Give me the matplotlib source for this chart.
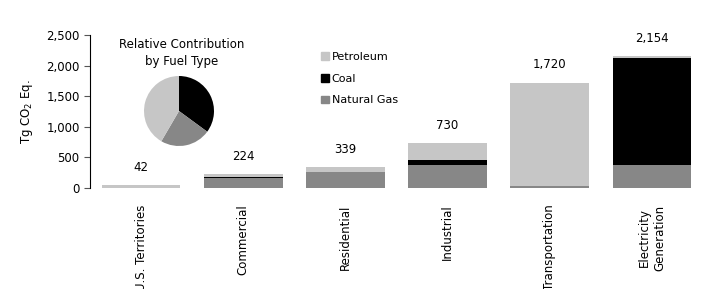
import numpy as np
import matplotlib
matplotlib.use("Agg")
import matplotlib.pyplot as plt
from matplotlib.patches import Patch
from matplotlib.ticker import FuncFormatter

# CO2 emissions from fossil fuel combustion by end-use sector and fuel type (Tg CO2 Eq.)
sectors = ['U.S. Territories', 'Commercial', 'Residential', 'Industrial',
           'Transportation', 'Electricity\nGeneration']
natural_gas = [0, 170, 259, 379, 35, 373]
coal = [0, 6, 0, 74, 0, 1747]
petroleum = [42, 48, 80, 277, 1685, 34]
totals = ['42', '224', '339', '730', '1,720', '2,154']

c_pet = '#c6c6c6'
c_coal = '#000000'
c_gas = '#878787'

plt.rcParams['font.family'] = 'DejaVu Sans'
plt.rcParams['font.size'] = 8

fig = plt.figure(figsize=(7.07, 2.89), dpi=100)
ax = fig.add_axes([90/707, 1 - 188/289, 613/707, 153/289])

x = np.arange(len(sectors))
gas = np.array(natural_gas)
cl = np.array(coal)
pet = np.array(petroleum)
w = 0.77
ax.bar(x, gas, w, color=c_gas, linewidth=0)
ax.bar(x, cl, w, bottom=gas, color=c_coal, linewidth=0)
ax.bar(x, pet, w, bottom=gas + cl, color=c_pet, linewidth=0)

tot = gas + cl + pet
for xi, t, lab in zip(x, tot, totals):
    ax.text(xi, t + 190, lab, ha='center', va='bottom', fontsize=8.5)

ax.set_xlim(-0.5, 5.5)
ax.set_ylim(0, 2500)
ax.set_yticks(np.arange(0, 2501, 500))
ax.yaxis.set_major_formatter(FuncFormatter(lambda v, p: f'{int(v):,}'))
ax.set_xticks(x)
ax.set_xticklabels(sectors, rotation=90, ha='center', va='top', fontsize=8.5)
ax.tick_params(axis='x', length=0, pad=12)
ax.tick_params(axis='y', direction='out', length=4, width=0.8, labelsize=8.5, color='#555555')
for s in ['top', 'right', 'bottom']:
    ax.spines[s].set_visible(False)
ax.spines['left'].set_linewidth(0.8)
ax.set_ylabel('Tg CO$_2$ Eq.', fontsize=8.5, labelpad=8)

handles = [Patch(color=c_pet, label='Petroleum'),
           Patch(color=c_coal, label='Coal'),
           Patch(color=c_gas, label='Natural Gas')]
fig.legend(handles=handles, loc='upper left', bbox_to_anchor=(321/707, 1 - 52/289),
           frameon=False, fontsize=8, handlelength=0.7, handleheight=0.7,
           handletextpad=0.25, labelspacing=1.05, borderpad=0, borderaxespad=0)

# inset pie of relative contribution
pie_vals = [cl.sum(), gas.sum(), pet.sum()]
pax = fig.add_axes([(179 - 35)/707, 1 - (111 + 35)/289, 70/707, 70/289])
pax.pie(pie_vals, colors=[c_coal, c_gas, c_pet], startangle=90, counterclock=False,
        wedgeprops=dict(linewidth=0))
pax.set_xlim(-1, 1)
pax.set_ylim(-1, 1)
pax.set_aspect('equal')
fig.text(182/707, 1 - 53/289, 'Relative Contribution\nby Fuel Type', ha='center',
         va='center', fontsize=8.5, linespacing=1.35)

fig.savefig('out.png', dpi=100)
